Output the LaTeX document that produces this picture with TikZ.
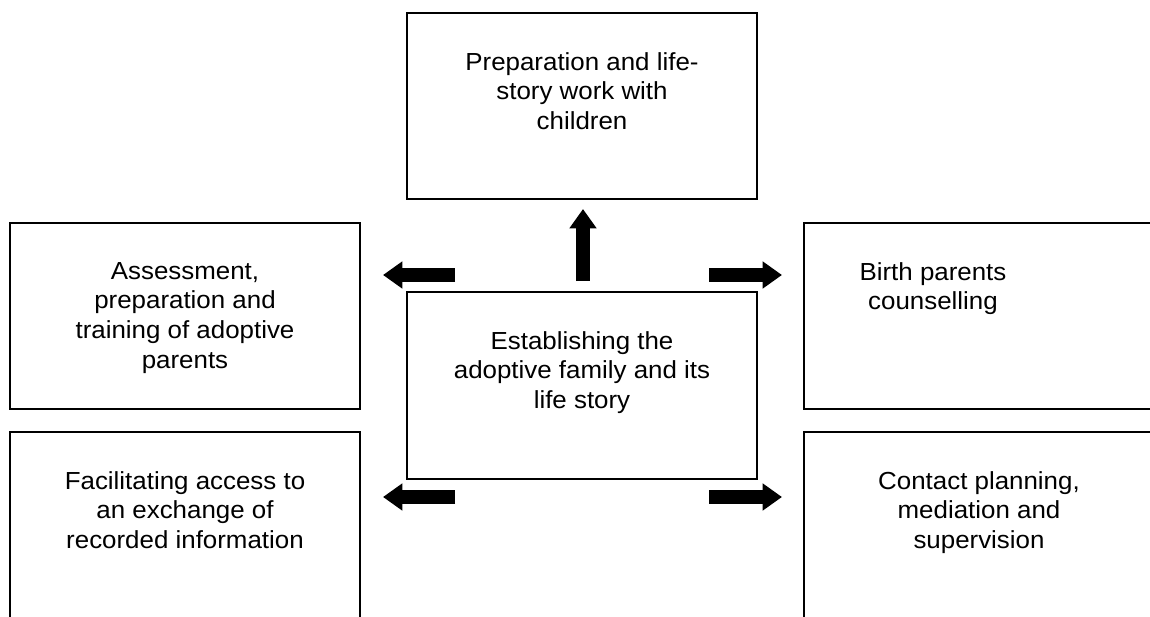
\documentclass[tikz,border=0pt]{standalone}
\usepackage{fontspec}
\setmainfont{Liberation Sans}[FakeStretch=1.05]
\usetikzlibrary{arrows.meta,positioning}

\tikzset{
	panel/.style={draw, line width=1.1pt, inner sep=0pt, minimum width=262.5pt},
	caption/.style={anchor=north, align=center, inner sep=0pt, font=\fontsize{18.5pt}{22.3pt}\selectfont},
	fatarrow/.style={line width=10pt, -{Triangle[width=19.5pt,length=14.5pt]}}
}

\begin{document}
\begin{tikzpicture}[x=0.75pt, y=-0.75pt]
	\useasboundingbox (0,0) rectangle (1150,617);
	\clip (0,0) rectangle (1150,617);

	% Boxes (the right and bottom ones run off the page)
	\node[panel, minimum height=139.5pt] (prep) at (582,106) {};
	\node[panel, minimum height=140pt] (estab) at (582,385.5) {};
	\node[panel, minimum height=139.5pt] (assess) at (185,316) {};
	\node[panel, minimum width=267pt, minimum height=139.5pt] (birth) at (982,316) {};
	\node[panel, minimum height=156pt] (access) at (185,536) {};
	\node[panel, minimum width=267pt, minimum height=156pt] (contact) at (982,536) {};

	% Texts, set from the top of each box
	\node[caption] (preptext) at (582,52) {Preparation and life-\\story work with\\children};
	\node[caption] (estabtext) at (582,331) {Establishing the\\adoptive family and its\\life story};
	\node[caption] (assesstext) at (185,262) {Assessment,\\preparation and\\training of adoptive\\parents};
	\node[caption] (birthtext) at (933,262) {Birth parents\\counselling};
	\node[caption] (accesstext) at (185,471) {Facilitating access to\\an exchange of\\recorded information};
	\node[caption] (contacttext) at (979,471) {Contact planning,\\mediation and\\supervision};

	% Arrow ends
	\coordinate (upfoot) at (583,281);
	\coordinate (uptip) at (583,209);
	\coordinate (tlfoot) at (455,275);
	\coordinate (tltip) at (383,275);
	\coordinate (trfoot) at (709,275);
	\coordinate (trtip) at (782,275);
	\coordinate (blfoot) at (455,497);
	\coordinate (bltip) at (383,497);
	\coordinate (brfoot) at (709,497);
	\coordinate (brtip) at (782,497);

	% Block arrows out of the centre
	\draw[fatarrow] (upfoot) -- (uptip);
	\draw[fatarrow] (tlfoot) -- (tltip);
	\draw[fatarrow] (trfoot) -- (trtip);
	\draw[fatarrow] (blfoot) -- (bltip);
	\draw[fatarrow] (brfoot) -- (brtip);
\end{tikzpicture}
\end{document}
